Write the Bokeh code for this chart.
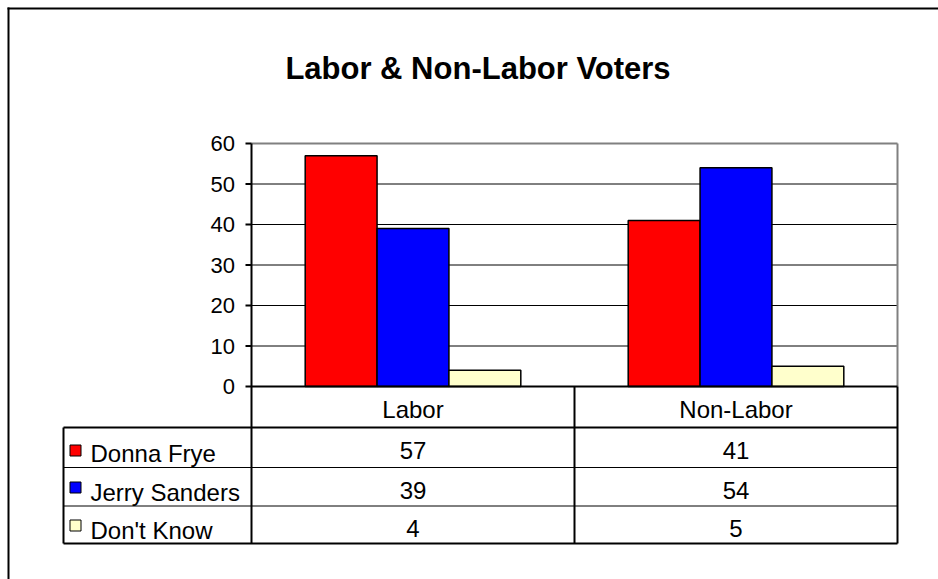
from bokeh.plotting import figure
from bokeh.models import Range1d
from bokeh.core.properties import value
from bokeh.embed import file_html
from bokeh.resources import INLINE

# ---------------- data ----------------
categories = ["Labor", "Non-Labor"]
series_names = ["Donna Frye", "Jerry Sanders", "Don't Know"]
donna_frye = [57, 41]
jerry_sanders = [39, 54]
dont_know = [4, 5]
series_values = [donna_frye, jerry_sanders, dont_know]
series_colors = ["#FF0000", "#0000FF", "#FFFFCC"]
y_ticks = [0, 10, 20, 30, 40, 50, 60]
chart_title = "Labor & Non-Labor Voters"

# ---------------- layout (page pixels) ----------------
W, H = 938, 579
PL, PR, PT, PB = 251, 897, 143, 386          # value-area edges
Y_MAX = 60
PX_X = (PR - PL) / len(categories)
PX_Y = (PB - PT) / Y_MAX


def dx(px):
    return (px - PL) / PX_X


def dy(py):
    return (PB - py) / PX_Y


FONT = "Liberation Sans"
NC = len(categories)

p = figure(width=W, height=H, x_range=Range1d(dx(0), dx(W)), y_range=Range1d(dy(H), dy(0)),
           output_backend="svg", toolbar_location=None, min_border=0,
           x_axis_location=None, y_axis_location=None)
p.grid.visible = False
p.outline_line_color = None
p.background_fill_color = "white"
p.border_fill_color = "white"


def segs(lines, color, width):
    p.segment(x0=[l[0] for l in lines], y0=[l[1] for l in lines],
              x1=[l[2] for l in lines], y1=[l[3] for l in lines],
              line_color=color, line_width=width)


def texts(xs, ys, labels, size, align="center", style="normal"):
    p.text(x=xs, y=ys, text=labels, text_align=align, text_baseline="middle",
           text_font=value(FONT), text_font_style=style,
           text_font_size=value(size), text_color="black")


# outer chart border (top and left edges visible)
segs([(dx(7), dy(8), dx(W), dy(8)), (dx(8), dy(7), dx(8), dy(H))], "black", 2)

# title
texts([dx(477.5)], [dy(67.5)], [chart_title], "31px", style="bold")

# gridlines
segs([(0, t, NC, t) for t in y_ticks[1:-1]], "black", 1)
# plot-area border (top, right)
segs([(0, Y_MAX, NC, Y_MAX), (NC, 0, NC, Y_MAX)], "#808080", 2)

# bars
bar_w = 0.2225
offsets = [-bar_w, 0.0, bar_w]
for vals, col, off in zip(series_values, series_colors, offsets):
    p.vbar(x=[i + 0.5 + off for i in range(NC)], top=vals, bottom=0, width=bar_w,
           fill_color=col, line_color="black", line_width=1.5)

# y axis: ticks + labels
segs([(dx(245), t, 0, t) for t in y_ticks], "black", 2)
texts([dx(234.5)] * len(y_ticks), y_ticks, [str(t) for t in y_ticks], "22px", align="right")

# data table geometry
t_left = dx(63)
row_top = [dy(427), dy(467), dy(505.5)]
t_bottom = dy(543)
value_mid = [dy(449.5), dy(489.5), dy(527.5)]
name_mid = [dy(452.5), dy(491.5), dy(529.5)]
key_y = [dy(450), dy(487), dy(525)]

lines2 = [(0, Y_MAX, 0, t_bottom), (0, 0, NC, 0)]
lines2 += [(i, 0, i, t_bottom) for i in range(1, NC + 1)]
lines2 += [(t_left, row_top[0], t_left, t_bottom),
           (t_left, row_top[0], NC, row_top[0]),
           (t_left, t_bottom, NC, t_bottom)]
segs(lines2, "black", 2)
segs([(t_left, r, NC, r) for r in row_top[1:]], "black", 1)

# header row (category names)
texts([i + 0.5 for i in range(NC)], [dy(409)] * NC, categories, "24px")

# table values
for j, vals in enumerate(series_values):
    texts([i + 0.5 for i in range(NC)], [value_mid[j]] * NC, [str(v) for v in vals], "24px")

# legend keys and names
p.scatter(x=[dx(75)] * len(series_names), y=key_y, marker="square", size=11,
          fill_color=series_colors, line_color="black", line_width=1)
texts([dx(90)] * len(series_names), name_mid, series_names, "24px", align="left")

open("out.html", "w").write(file_html(p, INLINE))
